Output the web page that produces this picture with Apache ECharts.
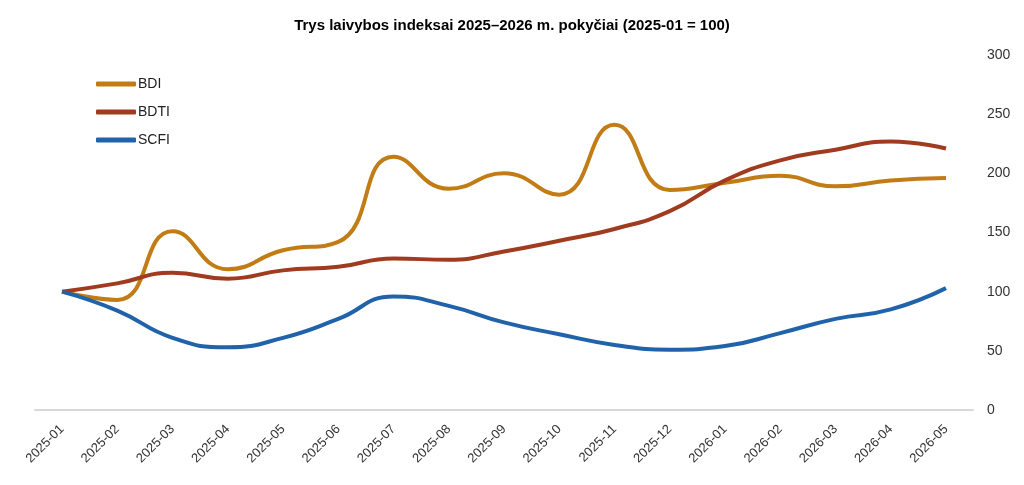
<!DOCTYPE html>
<html>
<head>
<meta charset="utf-8">
<script src="https://cdn.jsdelivr.net/npm/echarts@6/dist/echarts.min.js"></script>
<style>
  html, body { margin: 0; padding: 0; background: #fff; }
  #chart { width: 1024px; height: 485px; }
</style>
</head>
<body>
<div id="chart"></div>
<script>
var months = ['2025-01', '2025-02', '2025-03', '2025-04', '2025-05', '2025-06', '2025-07', '2025-08', '2025-09',
    '2025-10', '2025-11', '2025-12', '2026-01', '2026-02', '2026-03', '2026-04', '2026-05'];
var bdi = [100, 93, 151, 119, 135, 142, 214, 187, 200, 182, 241, 186, 192, 198, 189, 194, 196];
var bdti = [100, 107, 116, 111, 118, 121, 128, 127, 134, 143, 153, 168, 194, 211, 220, 227, 221];
var scfi = [100, 84, 61, 53, 61, 77, 96, 88, 74, 64, 55, 51, 54, 65, 77, 85, 103];
var yTicks = [0, 300, 50];

var chart = echarts.init(document.getElementById('chart'));
var font = 'Liberation Sans, Arial, sans-serif';

function line(name, data, color) {
    return {
        name: name,
        type: 'line',
        data: data,
        smooth: 0.5,
        symbol: 'none',
        lineStyle: { color: color, width: 4 },
        itemStyle: { color: color }
    };
}

chart.setOption({
    animation: false,
    title: {
        text: 'Trys laivybos indeksai 2025–2026 m. pokyčiai (2025-01 = 100)',
        left: 'center',
        top: 13,
        textStyle: { fontFamily: font, fontSize: 15, fontWeight: 'bold', color: '#000' }
    },
    legend: {
        orient: 'vertical',
        left: 91,
        top: 72,
        icon: 'roundRect',
        itemWidth: 40,
        itemHeight: 5,
        itemGap: 14,
        textStyle: { fontFamily: font, fontSize: 14, color: '#222', padding: [0, 0, 0, -3] },
        data: ['BDI', 'BDTI', 'SCFI']
    },
    grid: [
        { left: 62, right: 78, top: 55, bottom: 75 },
        { left: 35, right: 51, top: 55, bottom: 75 }
    ],
    xAxis: [{
        type: 'category',
        data: months,
        boundaryGap: false,
        gridIndex: 0,
        axisLine: { show: false },
        axisTick: { show: false },
        axisLabel: { rotate: 45, fontFamily: font, fontSize: 13, color: '#333', margin: 17, interval: 0 }
    }, {
        type: 'value',
        gridIndex: 1,
        axisLine: { show: true, onZero: false, lineStyle: { color: '#d9d9d9', width: 2 } },
        axisTick: { show: false },
        axisLabel: { show: false },
        splitLine: { show: false }
    }],
    yAxis: [{
        type: 'value',
        position: 'right',
        gridIndex: 0,
        min: yTicks[0],
        max: yTicks[1],
        interval: yTicks[2],
        axisLine: { show: false },
        axisTick: { show: false },
        splitLine: { show: false },
        axisLabel: { fontFamily: font, fontSize: 14, color: '#333', margin: 41 }
    }, {
        type: 'value',
        gridIndex: 1,
        show: false
    }],
    series: [
        line('BDI', bdi, '#c27c15'),
        line('BDTI', bdti, '#a13b1f'),
        line('SCFI', scfi, '#2163aa')
    ]
});
</script>
</body>
</html>
